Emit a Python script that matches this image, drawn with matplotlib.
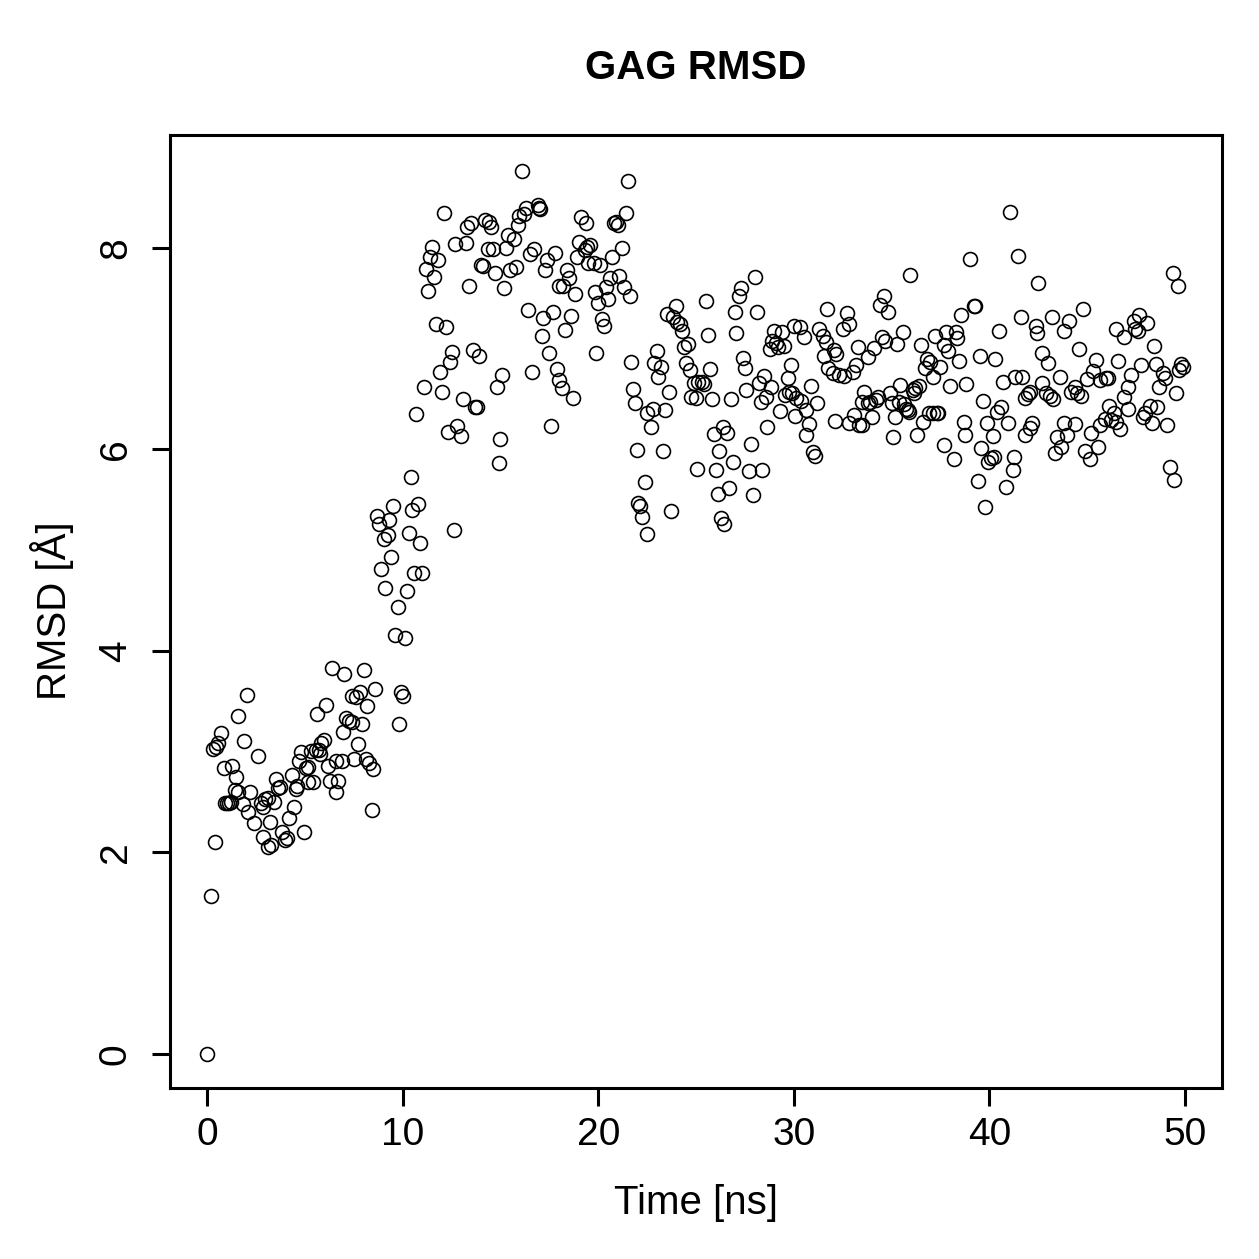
import numpy as np
import matplotlib
matplotlib.use("Agg")
import matplotlib.pyplot as plt

plt.rcParams['font.family'] = ['Liberation Sans', 'DejaVu Sans']

# Datos: tiempo (ns) y RMSD (Å)
time_ns = [
    0.0, 0.2, 0.3, 0.4, 0.45, 0.55, 0.7, 0.85, 0.9, 1.0, 1.1, 1.2, 1.25, 1.4, 1.5, 1.6, 1.6, 1.9, 1.85, 2.05,
    2.1, 2.2, 2.4, 2.6, 2.75, 2.85, 2.85, 2.95, 3.1, 3.1, 3.25, 3.2, 3.4, 3.5, 3.6, 3.75, 3.85, 4.0, 4.1, 4.2,
    4.35, 4.45, 4.6, 4.55, 4.7, 4.8, 4.95, 5.05, 5.15, 5.15, 5.4, 5.3, 5.55, 5.7, 5.6, 5.75,
    5.8, 6.0, 6.1, 6.2, 6.3, 6.4, 6.6, 6.6, 6.7, 6.9, 6.95, 7.0, 7.1, 7.25, 7.4, 7.4, 7.5, 7.6, 7.7, 7.8,
    7.9, 8.0, 8.1, 8.2, 8.3, 8.45, 8.5, 8.6, 8.7, 8.8, 8.9, 9.05, 9.1, 9.25, 9.3, 9.4, 9.5, 9.6, 9.75, 9.8,
    9.9, 10.0, 10.1, 10.2, 10.3, 10.4, 10.5, 10.6, 10.8, 10.9, 11.0,
    10.7, 11.1, 11.2, 11.3, 11.4, 11.5, 11.6, 11.7, 11.8, 11.9, 12.0, 12.1, 12.2, 12.3, 12.4, 12.5, 12.6, 12.7,
    12.8, 13.0, 13.1, 13.25, 13.3, 13.4, 13.5, 13.6, 13.7, 13.8, 13.9, 14.0, 14.1, 14.2, 14.35, 14.4, 14.5,
    14.6, 14.7, 14.8, 14.9, 15.0, 15.1, 15.2, 15.3, 15.4, 15.5, 15.7, 15.8, 15.9, 15.95, 16.1, 16.2, 16.3,
    16.4, 16.5, 16.6, 16.7, 16.9, 16.95, 17.0, 17.1, 17.2, 17.3, 17.4, 17.5, 17.6, 17.7, 17.8, 18.0,
    17.9, 18.0, 18.15, 18.2, 18.3, 18.4, 18.5, 18.6, 18.7, 18.8, 18.9, 19.0, 19.1, 19.3, 19.4, 19.45, 19.5,
    19.6, 19.8, 19.85, 19.9, 20.0, 20.1, 20.2, 20.3, 20.4, 20.5, 20.6, 20.7, 20.8, 20.9, 21.0, 21.05, 21.2,
    21.3, 21.4, 21.5, 21.6, 21.7, 21.8, 21.9, 22.0, 22.05, 22.15, 22.25, 22.4, 22.5, 22.5, 22.7, 22.8, 22.85,
    23.0, 23.05, 23.2, 23.3, 23.4, 23.5, 23.6, 23.7, 23.8, 24.0, 24.05, 24.2, 24.3, 24.4, 24.5, 24.6, 24.7,
    24.75, 24.9, 25.0, 25.05, 25.1,
    25.3, 25.4, 25.5, 25.6, 25.7, 25.8, 25.9, 26.0, 26.1, 26.2, 26.3, 26.4, 26.45, 26.6, 26.7, 26.8, 26.9,
    27.0, 27.05, 27.2, 27.3, 27.4, 27.5, 27.55, 27.7, 27.8, 27.9, 28.0, 28.1, 28.2, 28.3, 28.35, 28.5, 28.6,
    28.65, 28.8, 28.85, 28.9, 29.0, 29.1, 29.2, 29.3, 29.4, 29.5, 29.55, 29.7, 29.75, 29.85, 29.9, 30.0,
    30.05, 30.1, 30.3, 30.35, 30.5, 30.6, 30.65, 30.8, 30.9, 31.0, 31.1, 31.2, 31.3, 31.5, 31.55, 31.65,
    31.7, 31.75, 32.0, 32.05, 32.1, 32.15, 32.3, 32.5, 32.55, 32.7, 32.8, 32.85, 33.05, 33.1, 33.3, 33.35,
    33.2, 33.5, 33.5, 33.6, 33.8, 33.8, 33.9, 34.0, 34.1, 34.2, 34.3, 34.4, 34.5, 34.6, 34.65, 34.8, 34.9,
    35.0, 35.1, 35.2, 35.3, 35.4, 35.45, 35.6, 35.65, 35.75, 35.85, 35.9, 35.95, 36.1, 36.15, 36.2, 36.3,
    36.4, 36.5, 36.6, 36.7, 36.8, 36.9, 36.95, 37.1, 37.1, 37.2, 37.3, 37.4, 37.5, 37.7, 37.7, 37.8, 37.9,
    38.0, 38.2, 38.3, 38.35, 38.45, 38.55, 38.7, 38.75, 38.8, 39.0, 39.2, 39.25, 39.4, 39.5, 39.6, 39.7,
    39.8, 39.9, 39.95, 40.1, 40.2, 40.25, 40.3, 40.4, 40.5, 40.6, 40.7, 40.85, 40.95, 41.05, 41.2, 41.25,
    41.3, 41.45, 41.6, 41.65,
    41.8, 41.8, 42.0, 42.1, 42.1, 42.2, 42.4, 42.45, 42.5, 42.7, 42.7, 42.9, 43.0, 43.1, 43.2, 43.25, 43.35,
    43.45, 43.6, 43.65, 43.8, 43.8, 43.95, 44.1, 44.2, 44.4, 44.4, 44.5, 44.6, 44.7, 44.8, 44.9, 45.0, 45.15,
    45.2, 45.3, 45.45, 45.55, 45.65, 45.65, 45.9, 45.95, 46.05, 46.1, 46.2, 46.4, 46.5, 46.5, 46.6, 46.7,
    46.9, 46.9, 47.1, 47.1, 47.25, 47.4, 47.45, 47.6, 47.65, 47.75, 47.85, 47.95, 48.05, 48.2, 48.3, 48.4,
    48.5, 48.6, 48.7, 48.9, 49.0, 49.1, 49.25, 49.4, 49.45, 49.55, 49.65, 49.7, 49.8, 49.9,
]

rmsd = [
    0.00, 1.57, 3.03, 2.10, 3.04, 3.08, 3.18, 2.84, 2.49, 2.49, 2.49, 2.50, 2.86, 2.62, 2.75, 2.60, 3.35, 3.10, 2.48, 3.56,
    2.40, 2.60, 2.29, 2.96, 2.49, 2.15, 2.45, 2.53, 2.54, 2.05, 2.07, 2.30, 2.50, 2.73, 2.64, 2.65, 2.20, 2.12, 2.14, 2.34,
    2.77, 2.45, 2.66, 2.63, 2.91, 3.00, 2.20, 2.84, 2.85, 2.70, 2.70, 3.01, 3.02, 3.02, 3.37, 2.98,
    3.08, 3.11, 3.46, 2.86, 2.71, 3.83, 2.91, 2.60, 2.71, 2.91, 3.19, 3.77, 3.33, 3.30, 3.29, 3.55, 2.93, 3.54, 3.07, 3.59,
    3.27, 3.81, 2.93, 3.45, 2.89, 2.42, 2.83, 3.62, 5.34, 5.26, 4.81, 5.11, 4.62, 5.15, 5.30, 4.93, 5.44, 4.16, 4.43, 3.27,
    3.59, 3.55, 4.13, 4.59, 5.17, 5.73, 5.40, 4.77, 5.46, 5.07, 4.77,
    6.35, 6.62, 7.79, 7.57, 7.91, 8.01, 7.71, 7.24, 7.88, 6.77, 6.57, 8.35, 7.21, 6.17, 6.87, 6.97, 5.20, 8.04,
    6.23, 6.13, 6.50, 8.05, 8.21, 7.62, 8.25, 6.99, 6.42, 6.42, 6.93, 7.83, 7.82, 8.28, 7.99, 8.26, 8.21,
    7.99, 7.75, 6.62, 5.86, 6.10, 6.74, 7.60, 8.00, 8.13, 7.78, 8.09, 7.81, 8.23, 8.32, 8.76, 8.34, 8.40,
    7.38, 7.94, 6.77, 7.99, 8.43, 8.40, 8.39, 7.12, 7.30, 7.78, 7.88, 6.96, 6.23, 7.36, 7.95, 7.62,
    6.80, 6.69, 6.61, 7.62, 7.18, 7.78, 7.70, 7.32, 6.51, 7.54, 7.91, 8.06, 8.31, 7.98, 8.25, 8.01, 7.85,
    8.03, 7.85, 7.56, 6.96, 7.45, 7.83, 7.29, 7.22, 7.61, 7.49, 7.70, 7.91, 8.25, 8.26, 8.23, 7.72, 8.00,
    7.61, 8.35, 8.66, 7.52, 6.87, 6.60, 6.46, 5.99, 5.47, 5.44, 5.33, 5.68, 5.16, 6.36, 6.22, 6.40, 6.86,
    6.98, 6.72, 6.82, 5.98, 6.39, 7.34, 6.57, 5.39, 7.31, 7.42, 7.26, 7.24, 7.17, 7.02, 6.86, 7.05, 6.79,
    6.52, 6.66, 6.51, 5.80, 6.67,
    6.67, 6.65, 7.47, 7.13, 6.80, 6.50, 6.15, 5.79, 5.56, 5.98, 5.32, 6.22, 5.26, 6.16, 5.62, 6.50, 5.87,
    7.36, 7.15, 7.52, 7.60, 6.91, 6.81, 6.59, 5.78, 6.05, 5.55, 7.71, 7.36, 6.66, 6.47, 5.79, 6.73, 6.52,
    6.22, 7.00, 6.62, 7.08, 7.17, 7.06, 7.02, 6.38, 7.16, 7.03, 6.54, 6.71, 6.57, 6.84, 6.56, 7.22,
    6.33, 6.51, 7.21, 6.48, 7.11, 6.14, 6.39, 6.25, 6.63, 5.97, 5.93, 6.46, 7.19, 7.12, 6.93, 7.07,
    7.39, 6.81, 6.76, 6.99, 6.28, 6.95, 6.74, 7.19, 6.73, 7.35, 7.24, 6.26, 6.77, 6.34, 7.02, 6.24,
    6.84, 6.47, 6.24, 6.57, 6.92, 6.46, 6.47, 6.32, 7.01, 6.49, 6.52, 7.43, 7.11, 7.52, 7.08, 7.36, 6.56,
    6.46, 6.12, 6.32, 7.05, 6.47, 6.64, 7.16, 6.45, 6.40, 6.39, 6.37, 7.73, 6.59, 6.56, 6.61, 6.14,
    6.63, 7.04, 6.27, 6.81, 6.90, 6.36, 6.87, 6.72, 6.36, 7.12, 6.36, 6.36, 6.82, 7.04, 6.04, 7.16, 6.98,
    6.63, 5.90, 7.16, 7.10, 6.88, 7.33, 6.27, 6.14, 6.65, 7.89, 7.42, 7.42, 5.69, 6.93, 6.01, 6.48,
    5.43, 6.26, 5.87, 5.91, 6.13, 5.92, 6.90, 6.37, 7.17, 6.42, 6.67, 5.63, 6.26, 8.36, 5.79, 5.92,
    6.72, 7.92, 7.31, 6.72,
    6.51, 6.14, 6.55, 6.57, 6.21, 6.26, 7.22, 7.15, 7.65, 6.96, 6.66, 6.56, 6.86, 6.53, 7.31, 6.50, 5.96,
    6.12, 6.72, 6.02, 7.17, 6.26, 6.14, 7.27, 6.57, 6.62, 6.25, 6.56, 7.00, 6.53, 7.39, 5.98, 6.70, 5.90,
    6.16, 6.78, 6.89, 6.02, 6.69, 6.24, 6.30, 6.71, 6.71, 6.43, 6.29, 6.36, 7.19, 6.27, 6.88, 6.20,
    7.11, 6.52, 6.62, 6.40, 6.74, 7.27, 7.19, 7.17, 7.33, 6.84, 6.32, 6.36, 7.25, 6.43, 6.26, 7.03,
    6.85, 6.42, 6.62, 6.76, 6.71, 6.24, 5.82, 7.75, 5.70, 6.56, 7.62, 6.79, 6.85, 6.82,
]

x_ticks = [0, 10, 20, 30, 40, 50]
y_ticks = [0, 2, 4, 6, 8]

W = 1259
fig = plt.figure(figsize=(W / 100, W / 100), dpi=100)
ax = fig.add_axes([170 / W, 1 - 1088 / W, (1222 - 170) / W, (1088 - 135) / W])

ax.plot(time_ns, rmsd, linestyle='none', marker='o', markersize=10,
        markerfacecolor='none', markeredgecolor='black', markeredgewidth=1.2)

ax.set_xlim(-1.9, 51.9)
ax.set_ylim(-0.34, 9.12)
ax.set_xticks(x_ticks)
ax.set_yticks(y_ticks)
ax.tick_params(axis='both', length=13, width=2.2, labelsize=28, color='black')
ax.tick_params(axis='x', pad=8)
ax.tick_params(axis='y', pad=13)
for lab in ax.get_yticklabels():
    lab.set_rotation(90)
    lab.set_va('center')
for s in ax.spines.values():
    s.set_linewidth(2.2)

fig.text(696 / W, 1 - 68 / W, 'GAG RMSD', ha='center', va='center',
         fontsize=29, fontweight='bold')
fig.text(696 / W, 1 - 1203 / W, 'Time [ns]', ha='center', va='center', fontsize=29)
fig.text(52 / W, 1 - 611 / W, 'RMSD [Å]', ha='center', va='center',
         fontsize=29, rotation=90)

fig.savefig('out.png', dpi=100)
